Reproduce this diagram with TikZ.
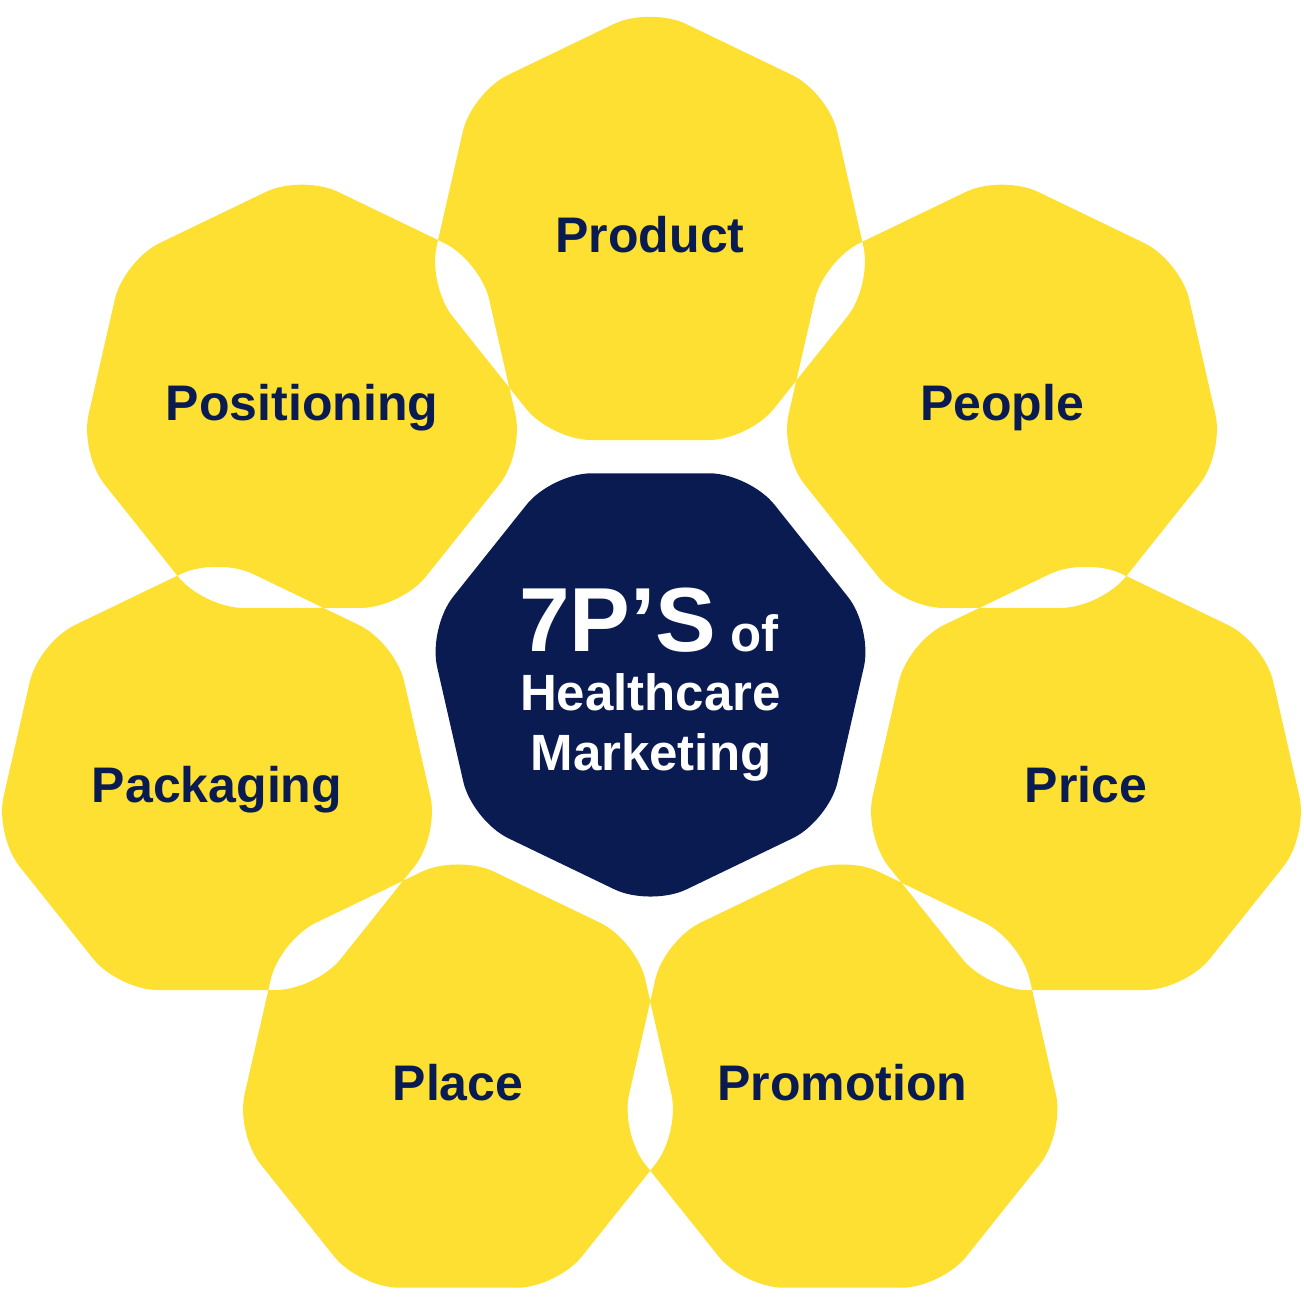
\documentclass[tikz,border=0pt]{standalone}
\usepackage{fontspec}
\setmainfont{Liberation Sans}
\definecolor{hyellow}{HTML}{FDE032}
\definecolor{hnavy}{HTML}{0A1B52}
% rounded heptagon path: centre (#1,#2), first vertex angle #3, circumradius 228
\newcommand\heptapath[3]{%
  ({#1+205.42*cos(#3+25.7143)},{#2+205.42*sin(#3+25.7143)})
  \foreach \k in {1,...,7}{ -- ({#1+228*cos(#3+\k*51.42857)},{#2+228*sin(#3+\k*51.42857)}) }
  -- cycle }
\begin{document}
\begin{tikzpicture}[x=1pt,y=-1pt,
  lbl/.style={font=\fontsize{50}{60}\selectfont\bfseries, text=hnavy, anchor=base, inner sep=0pt},
  ctr/.style={font=\fontsize{51}{60}\selectfont\bfseries, text=white, anchor=base, inner sep=0pt}]
\fill[white] (0,0) rectangle (1304,1304);
\useasboundingbox (0,0) rectangle (1304,1304);
% yellow petals (overlaps drawn white by the even-odd rule)
\fill[hyellow, even odd rule, rounded corners=40pt]
  \heptapath{650}{234.6}{-90}
  \heptapath{1002}{402.5}{-90}
  \heptapath{1086}{784.6}{-90}
  \heptapath{842.5}{1082.3}{-90}
  \heptapath{458}{1082.3}{-90}
  \heptapath{217}{784.6}{-90}
  \heptapath{302}{402.5}{-90};
% navy centre
\fill[hnavy, rounded corners=40pt] \heptapath{650.5}{678.7}{90};
% labels
\node[lbl] (product) at (650,252.3) {Product};
\node[lbl] (people) at (1002,420.2) {People};
\node[lbl] (price) at (1086,802.3) {Price};
\node[lbl] (promotion) at (842.5,1100) {Promotion};
\node[lbl] (place) at (458,1100) {Place};
\node[lbl] (packaging) at (217,802.3) {Packaging};
\node[lbl] (positioning) at (302,420.2) {Positioning};
% centre text
\node[ctr] (title) at (649,651.7) {{\fontsize{91}{91}\selectfont 7P’S} of};
\node[ctr] (health) at (650.5,710) {Healthcare};
\node[ctr] (mkt) at (651,770.7) {Marketing};
\end{tikzpicture}
\end{document}
